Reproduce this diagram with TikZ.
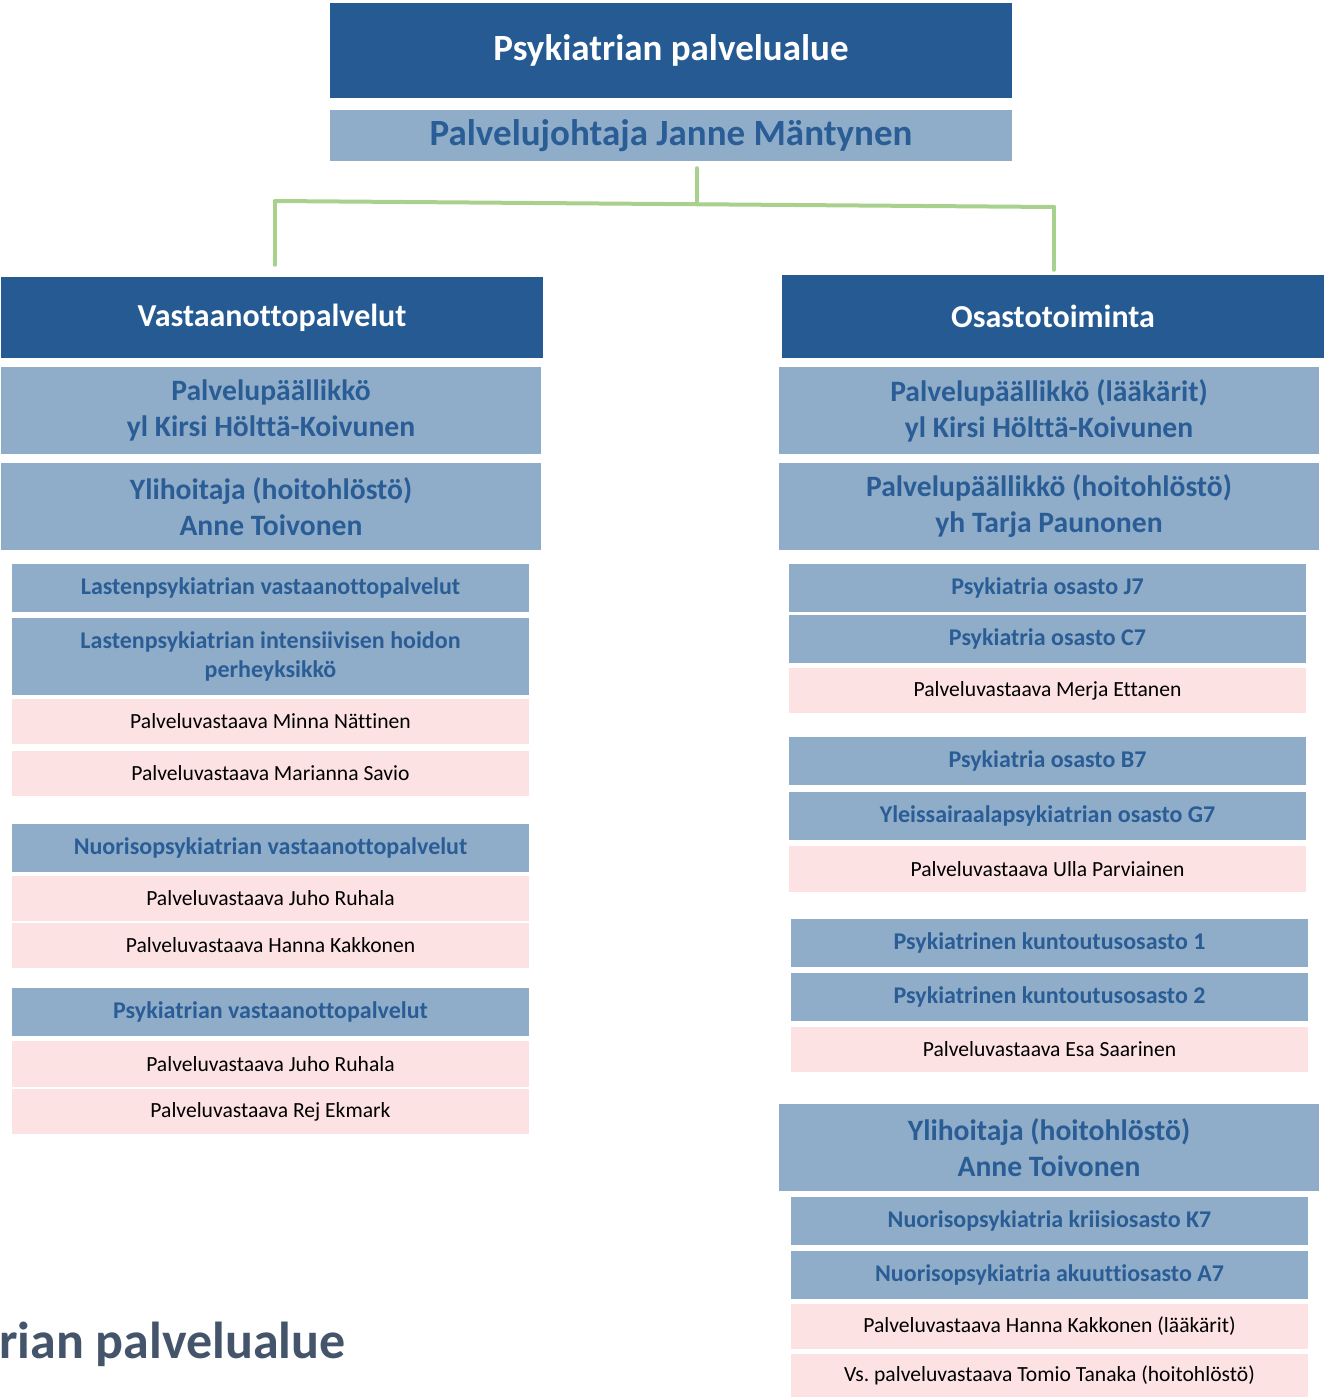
\documentclass[tikz,border=0pt]{standalone}
\usepackage{fontspec}
\setmainfont{Carlito}[Ligatures=CommonOff]
\usepackage{xcolor}
\definecolor{darkblue}{HTML}{255A92}
\definecolor{lightblue}{HTML}{8FADC8}
\definecolor{textblue}{HTML}{2A5D96}
\definecolor{pinkbg}{HTML}{FDE2E4}
\definecolor{greenline}{HTML}{A9D18E}
\definecolor{slategray}{HTML}{44546A}

\begin{document}
\begin{tikzpicture}[x=1pt,y=-1pt,
    head node/.style={fill=darkblue,text=white,font=\bfseries\fontsize{32}{38}\selectfont,inner sep=0pt,align=center},
    chief node/.style={fill=lightblue,text=textblue,font=\bfseries\fontsize{29.6}{36}\selectfont,minimum width=540pt,minimum height=87pt,inner sep=0pt,align=center},
    unit node/.style={fill=lightblue,text=textblue,font=\bfseries\fontsize{24}{29}\selectfont,minimum width=517pt,minimum height=48pt,inner sep=0pt,align=center},
    person node/.style={fill=pinkbg,text=black,font=\fontsize{21.6}{25}\selectfont,minimum width=517pt,minimum height=45pt,inner sep=0pt},
    conn/.style={draw=greenline,line width=4pt,line cap=round,line join=round}]
    \useasboundingbox (0,0) rectangle (1324,1398);

    % top of the chart
    \node[head node,minimum width=682pt,minimum height=95pt,font=\bfseries\fontsize{37}{42}\selectfont] (1) at (671,50.5) {Psykiatrian palvelualue};
    \node[chief node,minimum width=682pt,minimum height=51pt,font=\bfseries\fontsize{37}{42}\selectfont] (2) at (671,135.5) {Palvelujohtaja Janne Mäntynen};

    % the two branches
    \node[head node,minimum width=542pt,minimum height=81pt] (3) at (272,317.5) {Vastaanottopalvelut};
    \node[head node,minimum width=542pt,minimum height=83pt] (4) at (1053,316.5) {Osastotoiminta};

    % left side
    \node[chief node] (5) at (271,410.5) {Palvelupäällikkö\\yl Kirsi Hölttä-Koivunen};
    \node[chief node] (6) at (271,506.5) {Ylihoitaja (hoitohlöstö)\\Anne Toivonen};
    \node[unit node] (9) at (270.5,588) {Lastenpsykiatrian vastaanottopalvelut};
    \node[unit node,minimum height=77pt] (10) at (270.5,656.5) {Lastenpsykiatrian intensiivisen hoidon\\perheyksikkö};
    \node[person node] (11) at (270.5,721.5) {Palveluvastaava Minna Nättinen};
    \node[person node] (12) at (270.5,773.5) {Palveluvastaava Marianna Savio};
    \node[unit node] (13) at (270.5,848) {Nuorisopsykiatrian vastaanottopalvelut};
    \node[person node] (14) at (270.5,898.5) {Palveluvastaava Juho Ruhala};
    \node[person node] (15) at (270.5,945.5) {Palveluvastaava Hanna Kakkonen};
    \node[unit node] (16) at (270.5,1012) {Psykiatrian vastaanottopalvelut};
    \node[person node,minimum height=46pt] (17) at (270.5,1064) {Palveluvastaava Juho Ruhala};
    \node[person node] (18) at (270.5,1111.5) {Palveluvastaava Rej Ekmark};

    % right side
    \node[chief node] (7) at (1049,410.5) {Palvelupäällikkö (lääkärit)\\yl Kirsi Hölttä-Koivunen};
    \node[chief node] (8) at (1049,506.5) {Palvelupäällikkö (hoitohlöstö)\\yh Tarja Paunonen};
    \node[unit node] (19) at (1047.5,588) {Psykiatria osasto J7};
    \node[unit node] (20) at (1047.5,639) {Psykiatria osasto C7};
    \node[person node] (21) at (1047.5,690.5) {Palveluvastaava Merja Ettanen};
    \node[unit node] (22) at (1047.5,761) {Psykiatria osasto B7};
    \node[unit node] (23) at (1047.5,816) {Yleissairaalapsykiatrian osasto G7};
    \node[person node,minimum height=46pt] (24) at (1047.5,869) {Palveluvastaava Ulla Parviainen};
    \node[unit node] (25) at (1049.5,943) {Psykiatrinen kuntoutusosasto 1};
    \node[unit node] (26) at (1049.5,997) {Psykiatrinen kuntoutusosasto 2};
    \node[person node] (27) at (1049.5,1049.5) {Palveluvastaava Esa Saarinen};
    \node[chief node] (28) at (1049,1147.5) {Ylihoitaja (hoitohlöstö)\\Anne Toivonen};
    \node[unit node] (29) at (1049.5,1221) {Nuorisopsykiatria kriisiosasto K7};
    \node[unit node] (30) at (1049.5,1275) {Nuorisopsykiatria akuuttiosasto A7};
    \node[person node] (31) at (1049.5,1326.5) {Palveluvastaava Hanna Kakkonen (lääkärit)};
    \node[person node,minimum height=43pt] (32) at (1049.5,1375.5) {Vs.\ palveluvastaava Tomio Tanaka (hoitohlöstö)};

    % cut-off title at the bottom
    \node[anchor=base west,inner sep=0pt,text=slategray,font=\bfseries\fontsize{52}{60}\selectfont] (33) at (-1,1358) {rian palvelualue};

    % connectors
    \coordinate (j) at (697,203);
    \coordinate (jl) at (275,201);
    \coordinate (jr) at (1054,207);
    \draw[conn,shorten <=7pt] (2.south -| j) -- (j);
    \draw[conn] (jl) -- (jr);
    \draw[conn,shorten >=12pt] (jl) -- (3.north -| jl);
    \draw[conn,shorten >=5pt] (jr) -- (4.north -| jr);
\end{tikzpicture}
\end{document}
